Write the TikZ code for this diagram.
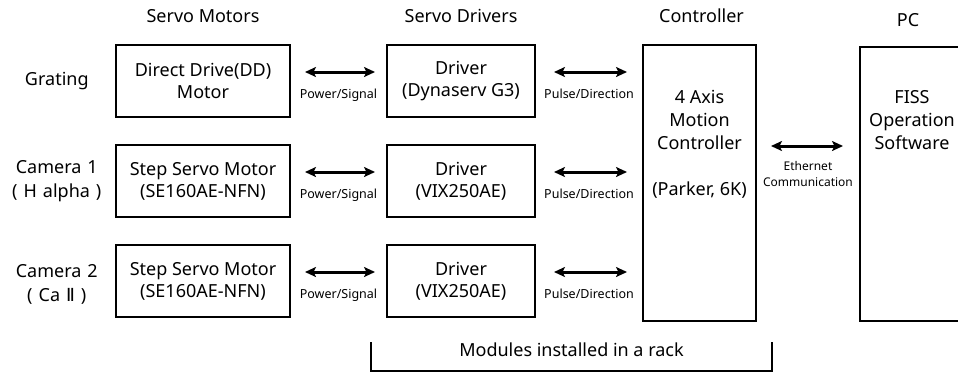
\documentclass[tikz,border=0pt]{standalone}
\usepackage{fontspec}
\setmainfont{Noto Sans}
\newfontfamily\romfont{DejaVu Sans}
\usetikzlibrary{positioning,arrows.meta}

\begin{document}
\begin{tikzpicture}[
  x=1pt, y=-1pt,
  node distance=28pt and 97pt,
  unitbox/.style={draw, line width=2pt, outer sep=0pt, minimum width=174pt, minimum height=72pt, align=center, inner sep=2pt, font=\fontsize{18}{22}\selectfont},
  drvbox/.style={unitbox, minimum width=148pt},
  tallbox/.style={draw, line width=2pt, outer sep=0pt, minimum width=113pt, minimum height=276pt},
  boxtext/.style={align=center, inner sep=0pt, font=\fontsize{18}{23}\selectfont},
  headtext/.style={inner sep=0pt, text height=13pt, text depth=3.5pt, font=\fontsize{18}{22}\selectfont},
  rowtext/.style={text width=90pt, align=center, inner sep=0pt, font=\fontsize{18}{24}\selectfont},
  linktext/.style={inner sep=0pt, text height=9pt, text depth=3pt, font=\fontsize{12.5}{15}\selectfont},
  linkarrow/.style={{Stealth[length=11pt,width=10pt,inset=2.5pt]}-{Stealth[length=11pt,width=10pt,inset=2.5pt]}, line width=3pt},
  rackline/.style={line width=1.2pt}
]
\useasboundingbox (0,0) rectangle (958,373);
\clip (0,0) rectangle (958,373);

% motors and drivers
\node[unitbox] (mot1) at (203,81) {Direct Drive(DD)\\Motor};
\node[unitbox, below=of mot1] (mot2) {Step Servo Motor\\(SE160AE-NFN)};
\node[unitbox, below=of mot2] (mot3) {Step Servo Motor\\(SE160AE-NFN)};
\node[drvbox, right=of mot1] (drv1) {Driver\\(Dynaserv G3)};
\node[drvbox, right=of mot2] (drv2) {Driver\\(VIX250AE)};
\node[drvbox, right=of mot3] (drv3) {Driver\\(VIX250AE)};

% controller and pc
\node[tallbox] (ctrl) at (699.5,183) {};
\node[boxtext, below=45pt of ctrl.north] (ctrltxt) {4 Axis\\Motion\\Controller\\[23pt](Parker, 6K)};
\node[tallbox, minimum width=104pt, minimum height=274pt] (pc) at (912,184) {};
\node[boxtext, below=43pt of pc.north] (pctxt) {FISS\\Operation\\Software};

% headers
\node[headtext, above=19pt of mot1] (hmot) {Servo Motors};
\node[headtext, above=19pt of drv1] (hdrv) {Servo Drivers};
\node[headtext, above=19pt of ctrl, xshift=2pt] (hctrl) {Controller};
\node[headtext, above=17pt of pc, xshift=-4pt] (hpc) {PC};

% row labels
\node[rowtext, left=14pt of mot1] (row1) {Grating};
\node[rowtext, left=14pt of mot2] (row2) {Camera 1\\( H alpha )};
\node[rowtext, left=14pt of mot3, yshift=-3pt] (row3) {Camera 2\\( Ca {\romfont Ⅱ} )};

% links
\foreach \i in {1,2,3}{
  \draw[linkarrow, shorten <=15pt, shorten >=12pt] ([yshift=9pt]mot\i.east) -- ([yshift=9pt]drv\i.west)
    node[linktext, midway, below=16pt] {Power/Signal};
  \draw[linkarrow, shorten <=19pt, shorten >=16pt] ([yshift=9pt]drv\i.east) -- ([yshift=9pt]drv\i.east -| ctrl.west)
    node[linktext, midway, below=16pt] {Pulse/Direction};
}
\draw[linkarrow, shorten <=15pt, shorten >=17pt] ([yshift=37pt]ctrl.east) -- ([yshift=37pt]ctrl.east -| pc.west)
  node[linktext, midway, below=14pt, align=center, text height=, text depth=, font=\fontsize{12}{16}\selectfont] (eth) {Ethernet\\Communication};

% rack bracket
\node[headtext] (rack) at (571.5,352) {Modules installed in a rack};
\draw[rackline] (371,342) |- (772,371) -- (772,342);
\end{tikzpicture}
\end{document}
